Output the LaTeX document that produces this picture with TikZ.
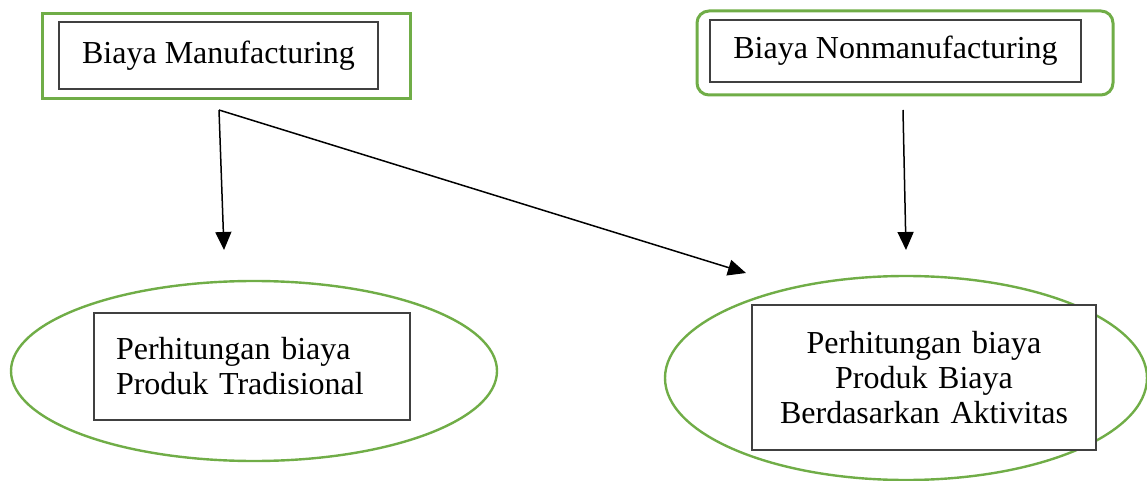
\documentclass[tikz,border=0pt]{standalone}
\usepackage{fontspec}
\setmainfont{Liberation Serif}
\usetikzlibrary{arrows.meta,shapes.geometric}
\definecolor{leafgreen}{HTML}{70AD47}
\definecolor{boxgray}{HTML}{404040}

\begin{document}
\begin{tikzpicture}[x=0.5pt,y=-0.5pt,>={Triangle[width=8pt,length=9pt]},
  font=\fontsize{16}{17.5}\selectfont,
  outerbox/.style={draw=leafgreen,line width=1.5pt,minimum width=#1},
  innerbox/.style={draw=boxgray,line width=0.7pt,fill=white,inner sep=0pt},
  oval/.style={ellipse,draw=leafgreen,line width=1.2pt}]
\useasboundingbox (0,0) rectangle (1147,481);

% Nodes (placed manually at the reference coordinates)
\node[outerbox=184pt,minimum height=42.5pt] (MFO) at (226,56.5) {};
\node[outerbox=208pt,minimum height=42pt,rounded corners=6pt] (NMO) at (905,53) {};

\node[innerbox,minimum width=159.5pt,minimum height=33.5pt] (MF) at (218.5,55.5) {Biaya Manufacturing};
\node[innerbox,minimum width=185.5pt,minimum height=31pt] (NM) at (895.5,51) {Biaya Nonmanufacturing};

\node[oval,minimum width=243pt,minimum height=90pt] (TRO) at (254,371) {};
\node[oval,minimum width=241pt,minimum height=102pt] (ABO) at (906,378) {};

\node[innerbox,minimum width=158pt,minimum height=53.5pt,text width=136pt,align=left,inner xsep=11pt] (TR) at (252,366.5) {Perhitungan biaya\\Produk Tradisional};
\node[innerbox,minimum width=172pt,minimum height=72.5pt,text width=172pt,align=center] (AB) at (924,377.5) {Perhitungan biaya\\Produk Biaya\\Berdasarkan Aktivitas};

% Free ends of the arrows
\coordinate (MFs) at (219,110);
\coordinate (MFt) at (224,250);
\coordinate (ABt) at (746,273);
\coordinate (NMs) at (903,110);
\coordinate (NMt) at (906,250);

% Directed arrows
\draw[->,line width=0.75pt] (MFs) -- (MFt);
\draw[->,line width=0.75pt] (MFs) -- (ABt);
\draw[->,line width=0.75pt] (NMs) -- (NMt);

\end{tikzpicture}
\end{document}
